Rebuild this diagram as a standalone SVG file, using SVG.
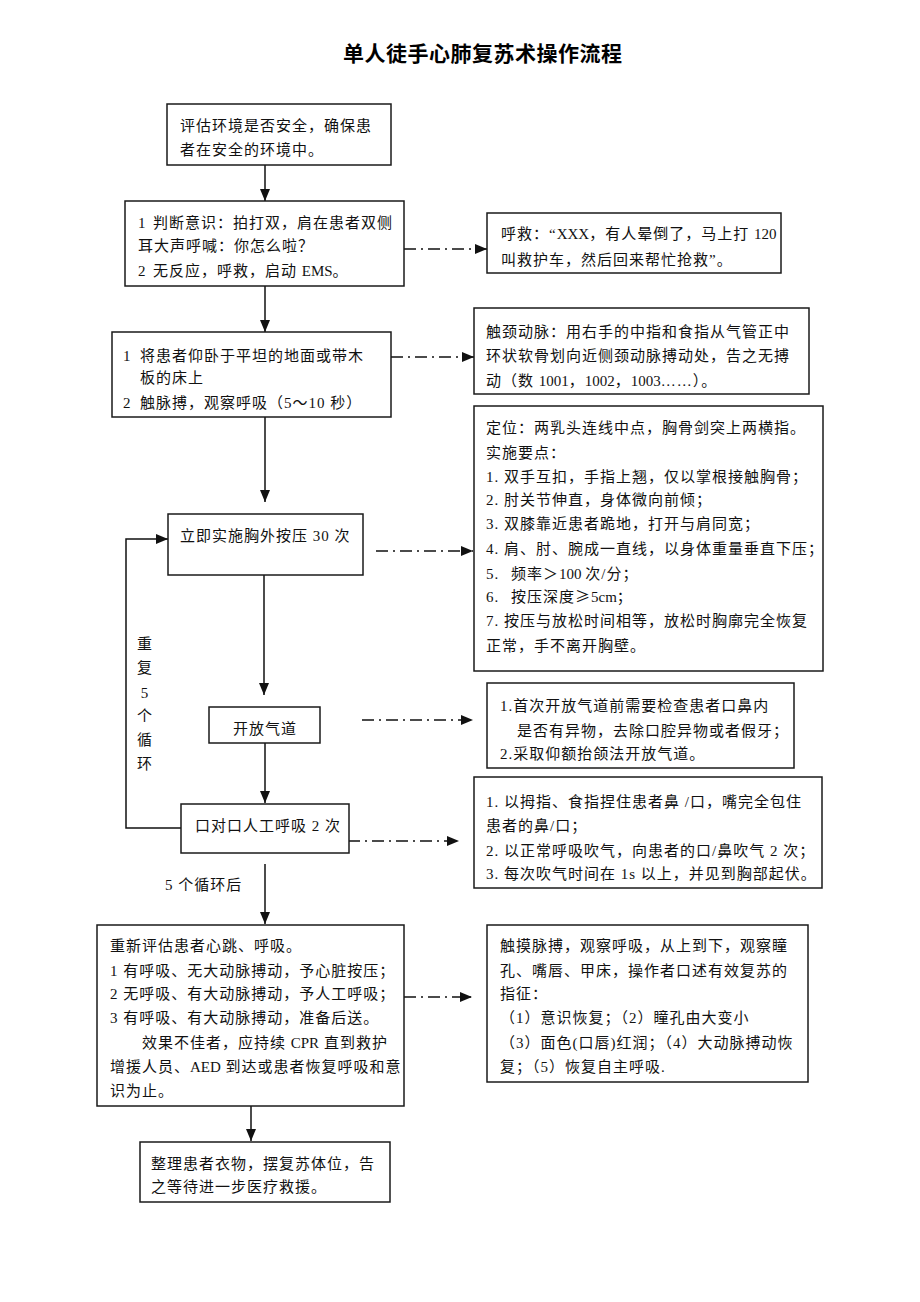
<svg xmlns="http://www.w3.org/2000/svg" width="920" height="1302" viewBox="0 0 920 1302">
<defs>
<marker id="ah" markerUnits="userSpaceOnUse" markerWidth="12" markerHeight="10" refX="12" refY="5" orient="auto">
<path d="M0,0 L12,5 L0,10 z" fill="#111"/>
</marker>
<style>
.box{fill:#fff;stroke:#1a1a1a;stroke-width:1.5}
.t{font-family:"Liberation Serif","Noto Sans CJK SC",serif;font-size:15px;fill:#111;letter-spacing:1px}
.l{letter-spacing:0}
.cjk{font-family:"Noto Sans CJK SC",sans-serif}
.title{font-family:"Noto Sans CJK SC","Liberation Sans",sans-serif;font-size:21px;font-weight:bold;fill:#000;letter-spacing:0.5px}
.ln{fill:none;stroke:#111;stroke-width:1.5}
.dd{fill:none;stroke:#111;stroke-width:1.5;stroke-dasharray:12 5 2 5}
</style>
</defs>
<rect width="920" height="1302" fill="#fff"/>
<text class="title" x="343" y="61">单人徒手心肺复苏术操作流程</text>

<g id="connectors">
<line class="ln" x1="265" y1="165" x2="265" y2="201" marker-end="url(#ah)"/>
<line class="ln" x1="265" y1="286" x2="265" y2="332" marker-end="url(#ah)"/>
<line class="ln" x1="265" y1="417" x2="265" y2="502" marker-end="url(#ah)"/>
<line class="ln" x1="264" y1="575" x2="264" y2="695" marker-end="url(#ah)"/>
<line class="ln" x1="265" y1="743" x2="265" y2="803" marker-end="url(#ah)"/>
<line class="ln" x1="265" y1="864" x2="265" y2="924" marker-end="url(#ah)"/>
<line class="ln" x1="251" y1="1106" x2="251" y2="1141" marker-end="url(#ah)"/>
<polyline class="ln" points="181,828 126,828 126,539 168,539" marker-end="url(#ah)"/>
<line class="dd" x1="404" y1="249" x2="487" y2="249" marker-end="url(#ah)"/>
<line class="dd" x1="391" y1="357" x2="474" y2="357" marker-end="url(#ah)"/>
<line class="dd" x1="376" y1="551" x2="473" y2="551" marker-end="url(#ah)"/>
<line class="dd" x1="362" y1="720" x2="473" y2="720" marker-end="url(#ah)"/>
<line class="dd" x1="348" y1="841" x2="459" y2="841" marker-end="url(#ah)"/>
<line class="dd" x1="404" y1="997" x2="472" y2="997" marker-end="url(#ah)"/>
<g id="loop-label" class="t" text-anchor="middle">
<text x="145" y="648.5">重</text>
<text x="145" y="672.5">复</text>
<text x="145" y="697.5">5</text>
<text x="145" y="720.5">个</text>
<text x="145" y="744.5">循</text>
<text x="145" y="768.5">环</text>
</g>
<text class="t" x="165" y="889.5">5 个循环后</text>
</g>

<g id="n1">
<rect class="box" x="167" y="104" width="224" height="61"/>
<text class="t" x="180" y="130.5">评估环境是否安全，确保患</text>
<text class="t" x="180" y="154.5">者在安全的环境中。</text>
</g>

<g id="n2">
<rect class="box" x="125" y="201" width="279" height="85"/>
<text class="t" y="227.5"><tspan x="138">1</tspan><tspan x="153">判断意识：拍打双，肩在患者双侧</tspan></text>
<text class="t" x="138" y="250.5">耳大声呼喊：你怎么啦？</text>
<text class="t" y="275.5"><tspan x="138">2</tspan><tspan x="153">无反应，呼救，启动 </tspan><tspan class="l">EMS</tspan><tspan>。</tspan></text>
</g>

<g id="n3">
<rect class="box" x="112" y="332" width="279" height="85"/>
<text class="t" y="360.5"><tspan x="123">1</tspan><tspan x="140">将患者仰卧于平坦的地面或带木</tspan></text>
<text class="t" x="140" y="382.5">板的床上</text>
<text class="t" y="407.5"><tspan x="123">2</tspan><tspan x="140">触脉搏，观察呼吸（5～10 秒）</tspan></text>
</g>

<g id="r1">
<rect class="box" x="487" y="213" width="294" height="60"/>
<text class="t" x="501" y="238.5">呼救：“<tspan class="l">XXX</tspan>，有人晕倒了，马上打 <tspan class="l">120</tspan></text>
<text class="t" x="501" y="264.5">叫救护车，然后回来帮忙抢救”。</text>
</g>

<g id="r2">
<rect class="box" x="474" y="308" width="335" height="86"/>
<text class="t" x="486" y="336.5">触颈动脉：用右手的中指和食指从气管正中</text>
<text class="t" x="486" y="360.5">环状软骨划向近侧颈动脉搏动处，告之无搏</text>
<text class="t" x="486" y="385.5">动（数 <tspan class="l">1001</tspan>，<tspan class="l">1002</tspan>，<tspan class="l">1003</tspan>……）。</text>
</g>

<g id="r3">
<rect class="box" x="474" y="406" width="349" height="265"/>
<text class="t" x="486" y="432.5">定位：两乳头连线中点，胸骨剑突上两横指。</text>
<text class="t" x="486" y="457.5">实施要点：</text>
<text class="t" x="486" y="481.5">1. 双手互扣，手指上翘，仅以掌根接触胸骨；</text>
<text class="t" x="486" y="504.5">2. 肘关节伸直，身体微向前倾；</text>
<text class="t" x="486" y="528.5">3. 双膝靠近患者跪地，打开与肩同宽；</text>
<text class="t" x="486" y="553.5">4. 肩、肘、腕成一直线，以身体重量垂直下压；</text>
<text class="t" y="578.5"><tspan x="486">5.</tspan><tspan x="511">频率＞</tspan><tspan class="l">100 </tspan><tspan>次/分；</tspan></text>
<text class="t" y="601.5"><tspan x="486">6.</tspan><tspan x="511">按压深度</tspan><tspan class="cjk">≥</tspan><tspan class="l">5cm</tspan><tspan>；</tspan></text>
<text class="t" x="486" y="625.5">7. 按压与放松时间相等，放松时胸廓完全恢复</text>
<text class="t" x="486" y="650.5">正常，手不离开胸壁。</text>
</g>

<g id="n4">
<rect class="box" x="168" y="514" width="195" height="61"/>
<text class="t" x="180" y="540.5">立即实施胸外按压 30 次</text>
</g>

<g id="n5">
<rect class="box" x="209" y="707" width="111" height="36"/>
<text class="t" x="265" y="733.5" text-anchor="middle">开放气道</text>
</g>

<g id="r4">
<rect class="box" x="487" y="683" width="307" height="85"/>
<text class="t" x="500" y="710.5">1.首次开放气道前需要检查患者口鼻内</text>
<text class="t" x="517" y="735.5">是否有异物，去除口腔异物或者假牙；</text>
<text class="t" x="500" y="758.5">2.采取仰额抬颌法开放气道。</text>
</g>

<g id="n6">
<rect class="box" x="181" y="804" width="168" height="49"/>
<text class="t" x="195" y="830.5">口对口人工呼吸 2 次</text>
</g>

<g id="r5">
<rect class="box" x="474" y="777" width="348" height="111"/>
<text class="t" x="486" y="806.5">1. 以拇指、食指捏住患者鼻 /口，嘴完全包住</text>
<text class="t" x="486" y="830.5">患者的鼻/口；</text>
<text class="t" x="486" y="855.5">2. 以正常呼吸吹气，向患者的口/鼻吹气 2 次；</text>
<text class="t" x="486" y="878.5">3. 每次吹气时间在 1s 以上，并见到胸部起伏。</text>
</g>

<g id="n7">
<rect class="box" x="97" y="925" width="307" height="181"/>
<text class="t" x="110" y="950.5">重新评估患者心跳、呼吸。</text>
<text class="t" x="110" y="975.5">1 有呼吸、无大动脉搏动，予心脏按压；</text>
<text class="t" x="110" y="998.5">2 无呼吸、有大动脉搏动，予人工呼吸；</text>
<text class="t" x="110" y="1022.5">3 有呼吸、有大动脉搏动，准备后送。</text>
<text class="t" x="142" y="1047.5">效果不佳者，应持续 <tspan class="l">CPR</tspan> 直到救护</text>
<text class="t" x="110" y="1071.5">增援人员、<tspan class="l">AED</tspan> 到达或患者恢复呼吸和意</text>
<text class="t" x="110" y="1095.5">识为止。</text>
</g>

<g id="r6">
<rect class="box" x="487" y="925" width="321" height="157"/>
<text class="t" x="500" y="950.5">触摸脉搏，观察呼吸，从上到下，观察瞳</text>
<text class="t" x="500" y="975.5">孔、嘴唇、甲床，操作者口述有效复苏的</text>
<text class="t" x="500" y="998.5">指征：</text>
<text class="t" x="500" y="1022.5">（1）意识恢复；（2）瞳孔由大变小</text>
<text class="t" x="500" y="1047.5">（3）面色(口唇)红润；（4）大动脉搏动恢</text>
<text class="t" x="500" y="1071.5">复；（5）恢复自主呼吸.</text>
</g>

<g id="n8">
<rect class="box" x="140" y="1142" width="250" height="60"/>
<text class="t" x="151" y="1168.5">整理患者衣物，摆复苏体位，告</text>
<text class="t" x="151" y="1191.5">之等待进一步医疗救援。</text>
</g>
</svg>
